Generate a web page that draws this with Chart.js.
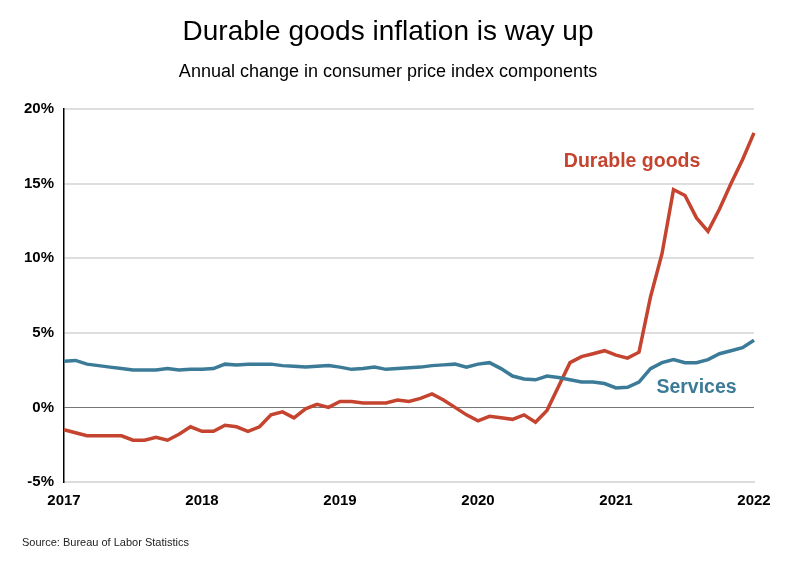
<!DOCTYPE html>
<html>
<head>
<meta charset="utf-8">
<script src="https://cdn.jsdelivr.net/npm/chart.js@4"></script>
<style>
html,body{margin:0;padding:0;background:#fff;}
#wrap{position:relative;width:788px;height:561px;}
</style>
</head>
<body>
<div id="wrap"><canvas id="c" width="788" height="561"></canvas></div>
<script>
const months = [];
for (let y = 2017; y <= 2022; y++) {
  for (let m = 1; m <= 12; m++) {
    if (y === 2022 && m > 1) break;
    months.push(y + '-' + String(m).padStart(2, '0'));
  }
}
const durableGoods = [
  -1.5, -1.7, -1.9, -1.9, -1.9, -1.9, -2.2, -2.2, -2.0, -2.2, -1.8, -1.3,
  -1.6, -1.6, -1.2, -1.3, -1.6, -1.3, -0.5, -0.3, -0.7, -0.1, 0.2, 0.0,
  0.4, 0.4, 0.3, 0.3, 0.3, 0.5, 0.4, 0.6, 0.9, 0.5, 0.0, -0.5,
  -0.9, -0.6, -0.7, -0.8, -0.5, -1.0, -0.2, 1.4, 3.0, 3.4, 3.6, 3.8,
  3.5, 3.3, 3.7, 7.4, 10.3, 14.6, 14.2, 12.7, 11.8, 13.3, 15.0, 16.6,
  18.4
];
const services = [
  3.1, 3.15, 2.9, 2.8, 2.7, 2.6, 2.5, 2.5, 2.5, 2.6, 2.5, 2.55,
  2.55, 2.6, 2.9, 2.85, 2.9, 2.9, 2.9, 2.8, 2.75, 2.7, 2.75, 2.8,
  2.7, 2.55, 2.6, 2.7, 2.55, 2.6, 2.65, 2.7, 2.8, 2.85, 2.9, 2.7,
  2.9, 3.0, 2.6, 2.1, 1.9, 1.85, 2.1, 2.0, 1.85, 1.7, 1.7, 1.6,
  1.3, 1.35, 1.7, 2.6, 3.0, 3.2, 3.0, 3.0, 3.2, 3.6, 3.8, 4.0,
  4.5
];
const yTicks = [-5, 0, 5, 10, 15, 20];
const seriesNames = ['Durable goods', 'Services'];
const titleText = 'Durable goods inflation is way up';
const subtitleText = 'Annual change in consumer price index components';
const sourceText = 'Source: Bureau of Labor Statistics';

const RED = '#c4442f';
const BLUE = '#3b7b97';
const FONT = '"Liberation Sans", Arial, Helvetica, sans-serif';

const textPlugin = {
  id: 'texts',
  afterDraw(chart) {
    const ctx = chart.ctx;
    const xs = chart.scales.x, ys = chart.scales.y;
    ctx.save();
    ctx.fillStyle = '#000';
    ctx.textAlign = 'center';
    ctx.textBaseline = 'middle';
    ctx.font = '28px ' + FONT;
    ctx.fillText(titleText, 388, 32);
    ctx.font = '18px ' + FONT;
    ctx.fillText(subtitleText, 388, 72);
    ctx.textAlign = 'left';
    ctx.font = '11px ' + FONT;
    ctx.fillStyle = '#222';
    ctx.fillText(sourceText, 22, 543);
    ctx.font = 'bold 19.5px ' + FONT;
    ctx.textAlign = 'center';
    ctx.fillStyle = RED;
    ctx.fillText(seriesNames[0], xs.getPixelForValue(49.4), ys.getPixelForValue(16.45));
    ctx.fillStyle = BLUE;
    ctx.fillText(seriesNames[1], xs.getPixelForValue(55.0), ys.getPixelForValue(1.35));
    ctx.restore();
  }
};

new Chart(document.getElementById('c'), {
  type: 'line',
  data: {
    labels: months,
    datasets: [
      { label: seriesNames[1], data: services, borderColor: BLUE, borderWidth: 3.5, pointRadius: 0, tension: 0 },
      { label: seriesNames[0], data: durableGoods, borderColor: RED, borderWidth: 3.5, pointRadius: 0, tension: 0 }
    ]
  },
  options: {
    responsive: false,
    animation: false,
    layout: { padding: { left: 0, right: 34, top: 109, bottom: 0 } },
    plugins: { legend: { display: false }, tooltip: { enabled: false }, title: { display: false } },
    scales: {
      x: {
        type: 'category',
        offset: false,
        grid: { display: false, drawTicks: false },
        border: { display: true, color: '#dcdcdc', width: 2 },
        ticks: {
          autoSkip: false, maxRotation: 0, padding: 10, color: '#000',
          font: { family: FONT, size: 15, weight: 'bold' },
          callback: function(v, i) { return i % 12 === 0 ? months[i].slice(0, 4) : null; }
        },
        afterFit(s) { s.height = 79; }
      },
      y: {
        min: -5, max: 20,
        afterBuildTicks(s) { s.ticks = yTicks.map(v => ({ value: v })); },
        grid: {
          drawTicks: false,
          color: ctx => ctx.tick && ctx.tick.value === 0 ? '#777' : (ctx.tick && ctx.tick.value === -5 ? 'rgba(0,0,0,0)' : '#dedede'),
          lineWidth: ctx => ctx.tick && ctx.tick.value === 0 ? 1 : 2
        },
        border: { display: true, color: '#000', width: 1.5 },
        ticks: {
          padding: 10, color: '#000',
          font: { family: FONT, size: 15, weight: 'bold' },
          callback: v => v + '%'
        },
        afterFit(s) { s.width = 64; }
      }
    }
  },
  plugins: [textPlugin]
});
</script>
</body>
</html>
